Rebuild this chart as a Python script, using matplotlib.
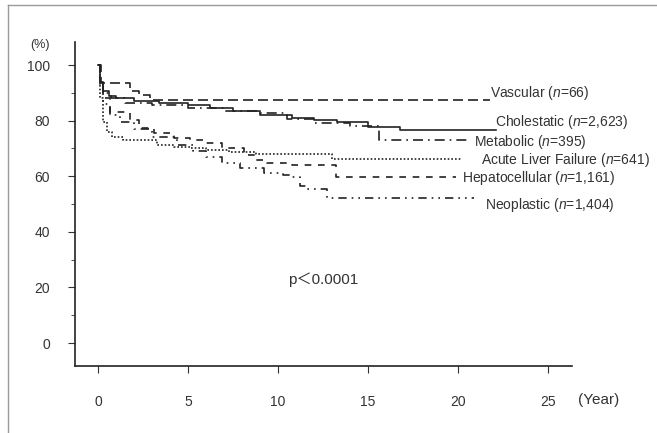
import matplotlib
matplotlib.use("Agg")
import matplotlib.pyplot as plt
from matplotlib.lines import Line2D

plt.rcParams['font.family'] = ['Liberation Sans', 'Noto Sans CJK JP', 'DejaVu Sans']
plt.rcParams['mathtext.fontset'] = 'custom'
plt.rcParams['mathtext.rm'] = 'Liberation Sans'
plt.rcParams['mathtext.it'] = 'Liberation Sans:italic'

# survival curves (years, % surviving)
vascular_t = [0, 0.15, 1.8, 2.3, 2.9, 21.8]
vascular_s = [100, 93.6, 90.5, 89.2, 87.4, 87.4]

cholestatic_t = [0, 0.1, 0.3, 0.6, 1.0, 2.0, 3.4, 5.0, 6.2, 7.5, 9.0, 10.8, 12.0, 13.3, 15.0, 16.8, 22.1]
cholestatic_s = [100, 94, 90.5, 89, 88, 87, 86.4, 85.5, 84.5, 83.5, 82, 81, 80.2, 79.6, 77.8, 76.8, 76.8]

metabolic_t = [0, 0.1, 0.3, 0.7, 1.5, 3.0, 5.0, 7.0, 9.0, 10.5, 12.0, 14.0, 15.6, 20.5]
metabolic_s = [100, 95, 90, 88, 86.5, 85.5, 84.5, 83.5, 82.8, 80.5, 79, 78, 73, 73]

alf_t = [0, 0.1, 0.3, 0.5, 0.8, 1.4, 3.3, 4.2, 5.1, 6.0, 7.3, 8.8, 13.0, 20.2]
alf_s = [100, 88, 79.6, 76, 74.2, 73, 71.4, 70.6, 70, 69.4, 68.8, 67.9, 66.2, 66.2]

hepato_t = [0, 0.1, 0.3, 0.67, 1.8, 2.3, 3.1, 4.2, 5.1, 6.0, 6.9, 8.1, 8.8, 9.4, 10.8, 13.2, 19.9]
hepato_s = [100, 93, 88, 83.2, 80.2, 77.2, 75.5, 73.7, 73, 72, 70.1, 67.6, 65.8, 64.7, 64.2, 59.8, 59.8]

neo_t = [0, 0.1, 0.3, 0.67, 1.2, 2.0, 3.0, 4.4, 5.3, 6.0, 6.9, 7.9, 9.2, 10.3, 10.8, 11.2, 11.6, 12.7, 20.9]
neo_s = [100, 92, 86, 82, 79.6, 77, 74, 71.2, 69, 67, 64.6, 62.8, 61.3, 60.3, 59.7, 56.5, 55.4, 52, 52]

labels = ['Vascular ($n$=66)', 'Cholestatic ($n$=2,623)', 'Metabolic ($n$=395)',
          'Acute Liver Failure ($n$=641)', 'Hepatocellular ($n$=1,161)', 'Neoplastic ($n$=1,404)']

x_ticks = [0, 5, 10, 15, 20, 25]
y_ticks = [0, 20, 40, 60, 80, 100]

fig = plt.figure(figsize=(6.57, 4.33), dpi=100)
ax = fig.add_axes([0.1142, 0.1547, 0.7564, 0.7483])

lc = '#222222'
curves = [
    (vascular_t, vascular_s, (0, (6, 3))),
    (cholestatic_t, cholestatic_s, '-'),
    (metabolic_t, metabolic_s, (0, (6, 3, 1, 3))),
    (alf_t, alf_s, (0, (1, 1.2))),
    (hepato_t, hepato_s, (0, (4, 4))),
    (neo_t, neo_s, (0, (5, 3, 1, 3, 1, 3))),
]
for t, s, ls in curves:
    ax.step(t, s, where='post', color=lc, lw=1.2, linestyle=ls)

# labels at the right end of each curve (x in years, y in %)
label_pos = [(21.8, 89.9), (22.05, 79.5), (20.9, 72.3), (21.3, 65.8), (20.2, 59.4), (21.5, 49.6)]
for (lx, ly), txt in zip(label_pos, labels):
    ax.text(lx, ly, txt, fontsize=10, color='#333333', va='center', ha='left')

ax.text(12.5, 22.7, 'p＜0.0001', fontsize=11, color='#333333', ha='center', va='center')

ax.set_xlim(-1.278, 26.33)
ax.set_ylim(-8.27, 108.3)
ax.set_xticks(x_ticks)
ax.set_yticks(y_ticks)
ax.set_yticks(range(10, 101, 20), minor=True)
ax.spines['top'].set_visible(False)
ax.spines['right'].set_visible(False)
for sp in ['left', 'bottom']:
    ax.spines[sp].set_color(lc)
    ax.spines[sp].set_linewidth(1.2)
ax.tick_params(axis='x', direction='out', length=5, pad=16, labelsize=10, colors='#333333')
ax.tick_params(axis='y', which='major', direction='out', length=5, pad=13, labelsize=10, colors='#333333')
ax.tick_params(axis='y', which='minor', direction='out', length=3, colors='#333333')

fig.text(40 / 657, 1 - 45 / 433, '(%)', fontsize=9, color='#333333', ha='center', va='center')
fig.text(599 / 657, 1 - 400 / 433, '(Year)', fontsize=11, color='#333333', ha='center', va='center')

# scan frame
fig.add_artist(Line2D([8 / 657, 8 / 657], [0, 1 - 5 / 433], transform=fig.transFigure, color='#999999', lw=1))
fig.add_artist(Line2D([8 / 657, 1], [1 - 5 / 433, 1 - 5 / 433], transform=fig.transFigure, color='#999999', lw=1))

fig.savefig('out.png', dpi=100)
